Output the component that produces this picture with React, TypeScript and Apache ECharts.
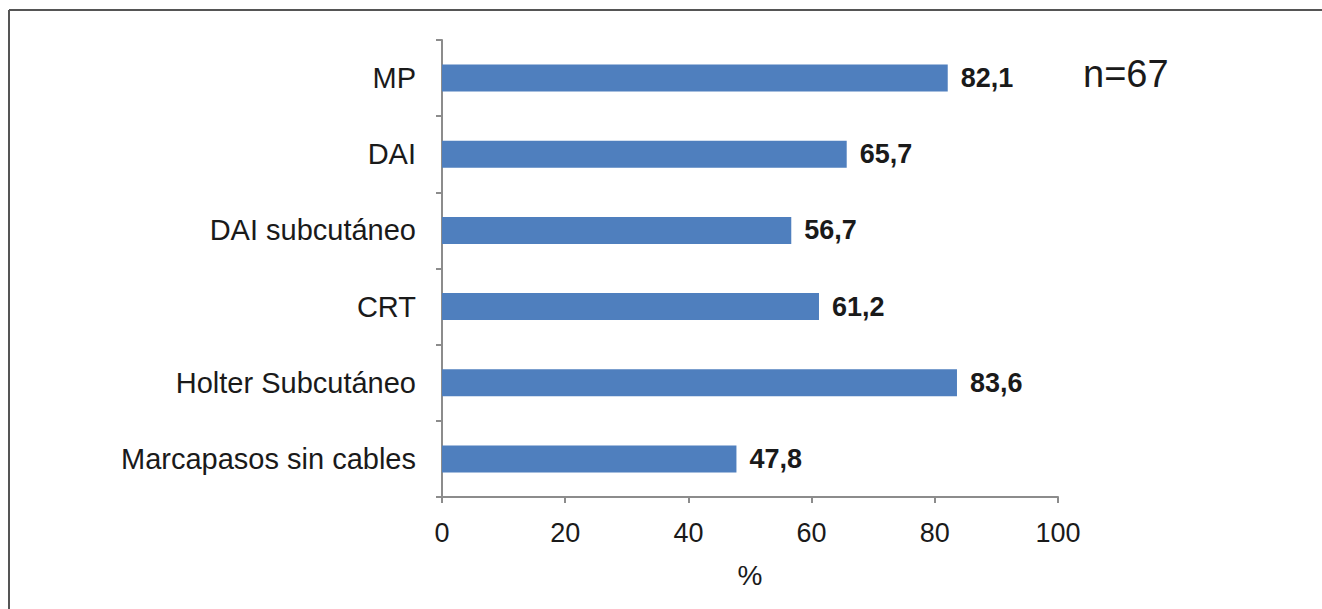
import React, { useEffect, useRef } from "react";
import * as echarts from "echarts";

const categories = [
  "MP",
  "DAI",
  "DAI subcutáneo",
  "CRT",
  "Holter Subcutáneo",
  "Marcapasos sin cables",
];
const values = [82.1, 65.7, 56.7, 61.2, 83.6, 47.8];
const xTicks = [0, 20, 40, 60, 80, 100];
const sampleNote = "n=67";
const axisName = "%";

export default function App() {
  const ref = useRef<HTMLDivElement>(null);
  useEffect(() => {
    if (!ref.current) return;
    const chart = echarts.init(ref.current, undefined, { renderer: "svg" });
    const font = "'Liberation Sans', Arial, sans-serif";
    chart.setOption({
      animation: false,
      backgroundColor: "#ffffff",
      textStyle: { fontFamily: font },
      grid: { left: 442, right: 264, top: 40, bottom: 112, containLabel: false },
      xAxis: {
        type: "value",
        min: xTicks[0],
        max: xTicks[xTicks.length - 1],
        interval: 20,
        name: axisName,
        nameLocation: "middle",
        nameGap: 64,
        nameTextStyle: { fontSize: 28, color: "#1a1a1a", fontFamily: font },
        axisLine: { show: true, lineStyle: { color: "#8c8c8c", width: 2 } },
        axisTick: { show: true, length: 6, lineStyle: { color: "#8c8c8c", width: 2 } },
        axisLabel: { fontSize: 27, color: "#1a1a1a", margin: 22, fontFamily: font },
        splitLine: { show: false },
      },
      yAxis: {
        type: "category",
        data: categories,
        inverse: true,
        axisLine: { show: true, lineStyle: { color: "#8c8c8c", width: 2 } },
        axisTick: { show: true, length: 6, alignWithLabel: false, lineStyle: { color: "#8c8c8c", width: 2 } },
        axisLabel: { fontSize: 29, color: "#1a1a1a", margin: 26, fontFamily: font },
        splitLine: { show: false },
      },
      series: [
        {
          type: "bar",
          data: values,
          barWidth: 27,
          itemStyle: { color: "#4f7fbe" },
          label: {
            show: true,
            position: "right",
            distance: 13,
            fontSize: 27,
            fontWeight: "bold",
            color: "#1a1a1a",
            fontFamily: font,
            formatter: (p: any) => String(p.value).replace(".", ","),
          },
        },
      ],
      graphic: [
        {
          type: "line",
          shape: { x1: 9, y1: 10, x2: 9, y2: 609 },
          style: { stroke: "#555", lineWidth: 2 },
        },
        {
          type: "line",
          shape: { x1: 9, y1: 10, x2: 1322, y2: 10 },
          style: { stroke: "#555", lineWidth: 2 },
        },
        {
          type: "text",
          left: 1083,
          top: 55,
          style: { text: sampleNote, fontSize: 38, fill: "#1a1a1a", fontFamily: font },
        },
      ],
    });
    return () => chart.dispose();
  }, []);
  return (
    <div
      ref={ref}
      style={{ position: "fixed", left: 0, top: 0, width: 1322, height: 609 }}
    />
  );
}
